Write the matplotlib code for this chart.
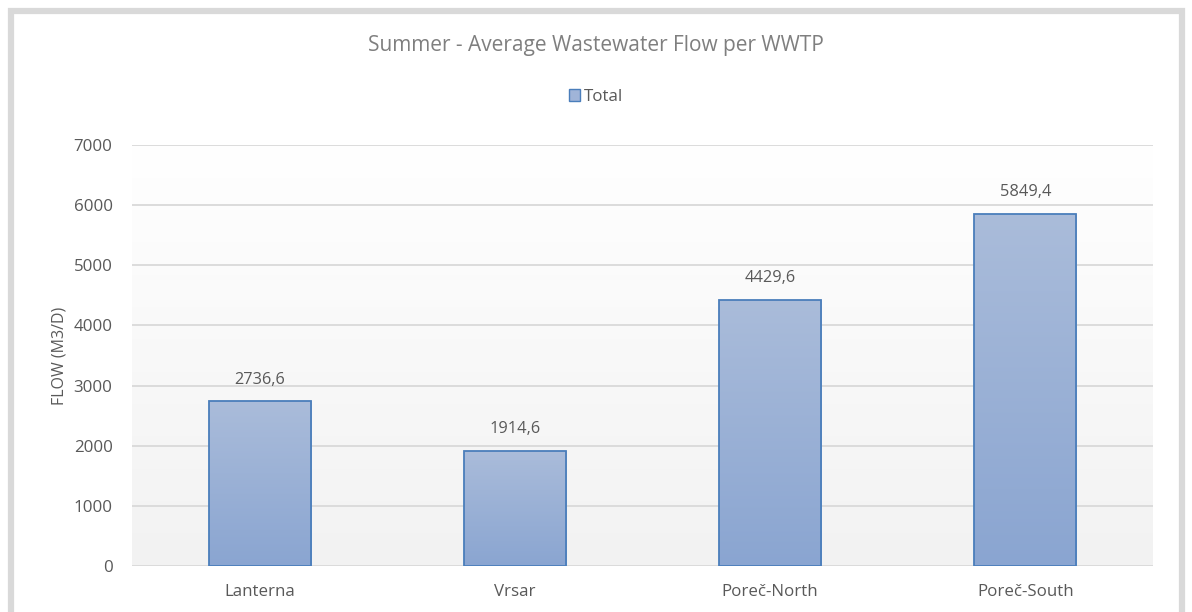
import matplotlib
matplotlib.use("Agg")
import matplotlib.pyplot as plt
import numpy as np
from matplotlib.patches import Rectangle, Patch
from matplotlib.colors import LinearSegmentedColormap

categories = ["Lanterna", "Vrsar", "Poreč-North", "Poreč-South"]
values = [2736.6, 1914.6, 4429.6, 5849.4]
yticks = [0, 1000, 2000, 3000, 4000, 5000, 6000, 7000]
title = "Summer - Average Wastewater Flow per WWTP"
ylabel = "FLOW (M3/D)"
legend_label = "Total"

plt.rcParams['font.family'] = ['Open Sans', 'DejaVu Sans']
txt = '#595959'

fig = plt.figure(figsize=(11.92, 6.12), dpi=100)
# outer border
fig.patches.append(Rectangle((10.5/1192, -0.05), (1182-10.5)/1192, 1.05 - 10.5/612,
                             transform=fig.transFigure, fill=False,
                             edgecolor='#d9d9d9', linewidth=4.5, zorder=0))

ax = fig.add_axes([132/1192, 1-566/612, (1153-132)/1192, (566-145)/612])
ax.set_xlim(-0.5, len(categories)-0.5)
ax.set_ylim(0, 7000)

# background gradient
bg = LinearSegmentedColormap.from_list('bg', ['#f2f2f2', '#ffffff'])
grad = np.linspace(0, 1, 256).reshape(-1, 1)
ax.imshow(grad, cmap=bg, aspect='auto', extent=(-0.5, len(categories)-0.5, 0, 7000),
          origin='lower', zorder=0)

for t in yticks:
    ax.axhline(t, color='#d9d9d9', linewidth=1.3, zorder=1)

bar_cmap = LinearSegmentedColormap.from_list('bar', ['#8aa5d1', '#aabcda'])
x = np.arange(len(categories))
bars = ax.bar(x, values, width=0.40, color='none', edgecolor='#4a7ebb', linewidth=1.3, zorder=3)
for b in bars:
    x0, w, h = b.get_x(), b.get_width(), b.get_height()
    im = ax.imshow(grad, cmap=bar_cmap, aspect='auto', extent=(x0, x0+w, 0, h),
                   origin='lower', zorder=2)
    im.set_clip_path(b)
for xi, v in zip(x, values):
    ax.annotate(f"{v:.1f}".replace('.', ','), (xi, v), xytext=(0, 10), textcoords='offset points',
                ha='center', va='bottom', fontsize=11.8, color=txt)

ax.set_xlim(-0.5, len(categories)-0.5)
ax.set_ylim(0, 7000)
ax.set_xticks(x)
ax.set_xticklabels(categories)
ax.set_yticks(yticks)
ax.tick_params(length=0, labelsize=12.2, labelcolor=txt, pad=14)
ax.tick_params(axis='x', pad=13)
for s in ax.spines.values():
    s.set_visible(False)
ax.set_ylabel(ylabel, fontsize=11.5, color=txt, labelpad=4)

fig.text(0.5, 1-45/612, title, ha='center', va='center', fontsize=15, color='#7f7f7f')

leg = fig.legend(handles=[Patch(facecolor='#a0b4d8', edgecolor='#4a7ebb', label=legend_label)],
                 loc='center', bbox_to_anchor=(0.5, 1-97/612), frameon=False, fontsize=12.2,
                 handlelength=0.65, handleheight=0.65, handletextpad=0.25, labelcolor=txt)

fig.savefig("out.png", dpi=100)
